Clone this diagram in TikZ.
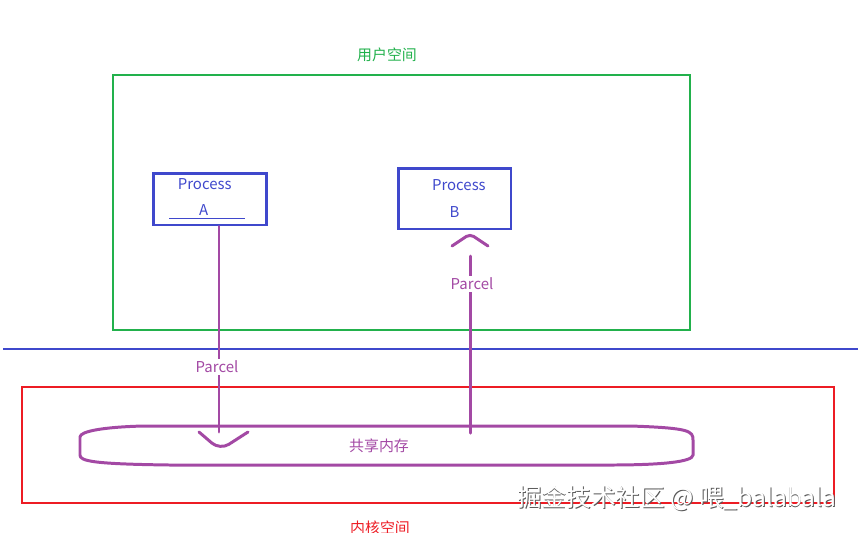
\documentclass[tikz,border=0pt]{standalone}
\usepackage{fontspec}
\setmainfont{Noto Sans CJK SC}
\definecolor{pgreen}{RGB}{34,177,76}
\definecolor{pblue}{RGB}{63,72,204}
\definecolor{pred}{RGB}{237,28,36}
\definecolor{ppurple}{RGB}{163,73,164}
\begin{document}
\begin{tikzpicture}[x=0.02cm,y=-0.02cm,every node/.style={font=\fontsize{8.5}{15}\selectfont},
  procbox/.style={draw=pblue,line width=1.7pt,text=pblue,align=center,inner sep=0pt},
  parcel/.style={draw=ppurple,line width=1.7pt,line cap=round,line join=round},
  plabel/.style={text=ppurple,fill=white,inner sep=1pt}]
\clip (0,0) rectangle (858,532);
% user space
\draw[pgreen,line width=1.6pt] (113,75) rectangle (690,330);
\node[text=pgreen] (usr) at (387,55) {用户空间};
% boundary
\draw[pblue,line width=1.2pt] (3,349) -- (858,349);
% kernel space
\draw[pred,line width=1.4pt] (22,387) rectangle (834,503);
\node[text=pred] (krn) at (380,528) {内核空间};
% shared memory
\draw[ppurple,line width=1.7pt] (143,426) -- (631,426)
  .. controls (690,428) and (693,431) .. (693,440) -- (693,455)
  .. controls (693,462) and (660,465) .. (610,465) -- (170,465)
  .. controls (92,464) and (80,461) .. (80,455) -- (80,437)
  .. controls (80,431) and (105,427) .. (143,426);
\node[text=ppurple] (shm) at (379,446) {共享内存};
% processes
\node[procbox,minimum width=2.28cm,minimum height=1.04cm] (pa) at (210,199)
  {\hspace*{-6pt}Process\\\hspace*{-3pt}\underline{\hphantom{xxxx}A\hphantom{xxxxx}}};
\node[procbox,minimum width=2.26cm,minimum height=1.22cm] (pb) at (454.5,198.5)
  {\hspace*{5pt}Process\\B};
% parcels
\coordinate (aend) at (219,432);
\coordinate (bend) at (470,433);
\coordinate (btop) at (470,256);
\draw[parcel] (pa.south -| aend) -- (aend);
\draw[parcel,rounded corners=6pt] (199,432) -- (220,450) -- (248,432);
\node[plabel] (la) at (217,367) {Parcel};
\draw[parcel] (bend) -- (btop);
\draw[parcel,rounded corners=2.5pt] (452,246) -- (470,234) -- (488,246);
\node[plabel] (lb) at (472,284) {Parcel};
% watermark
\node[text=gray!70!black,font=\fontsize{14}{16}\selectfont] (wms) at (677.8,498.8) {掘金技术社区 @ 喂\_balabala};
\node[text=white,font=\fontsize{14}{16}\selectfont] (wm) at (677,498) {掘金技术社区 @ 喂\_balabala};
\end{tikzpicture}
\end{document}
